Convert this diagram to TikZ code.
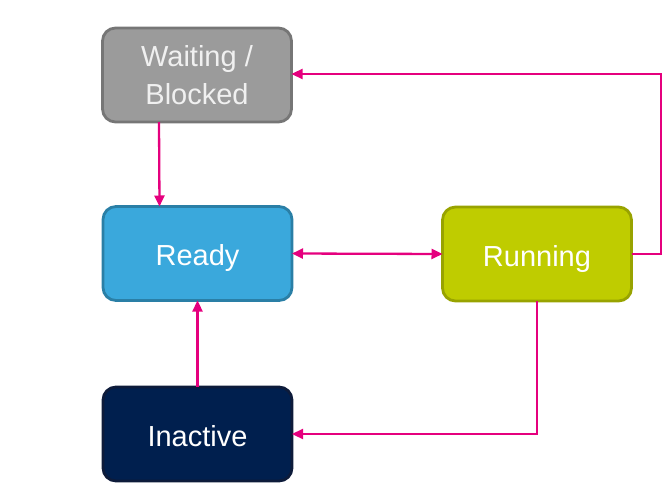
\documentclass[tikz,border=0pt]{standalone}
\usepackage{fontspec}
\setmainfont{Liberation Sans}
\usetikzlibrary{arrows.meta}
\definecolor{waitfill}{HTML}{9B9B9B}
\definecolor{waitdraw}{HTML}{767676}
\definecolor{readyfill}{HTML}{3AA8DC}
\definecolor{readydraw}{HTML}{2A7FA6}
\definecolor{runfill}{HTML}{BFCC00}
\definecolor{rundraw}{HTML}{98A300}
\definecolor{inactfill}{HTML}{001F4E}
\definecolor{inactdraw}{HTML}{0D1B3A}
\definecolor{conn}{HTML}{E5007E}
\begin{document}
\begin{tikzpicture}[x=1pt,y=-1pt,
  state/.style={rounded corners=13pt, line width=2.8pt, minimum width=189pt, minimum height=94pt,
    outer sep=0pt, align=center, text=white, font=\fontsize{29}{38}\selectfont},
  oneline/.style={text height=26pt, text depth=2pt},
  tip/.tip={Triangle[length=11pt,width=10pt]},
  link/.style={draw=conn, line width=2.3pt, -tip},
  dlink/.style={draw=conn, line width=2.3pt, tip-tip}]
\useasboundingbox (0,0) rectangle (671,489);
\node[state, fill=waitfill, draw=waitdraw, text=white!94!black] (W) at (197,75) {Waiting /\\Blocked};
\node[state, oneline, fill=readyfill, draw=readydraw] (R) at (197.5,253.5) {Ready};
\node[state, oneline, fill=runfill, draw=rundraw] (U) at (537,254) {Running};
\node[state, oneline, fill=inactfill, draw=inactdraw] (I) at (197.5,434) {Inactive};
\coordinate (c1) at (661,254);
\coordinate (c2) at (661,74);
\coordinate (c3) at (537,434);
\draw[link] ([xshift=-38pt]W.south) -- ([xshift=-38pt]R.north);
\draw[dlink] (R.east) -- (U.west);
\draw[link] (I.north) -- (R.south);
\draw[link] (U.east) -- (c1) -- (c2) -- (W.east |- c2);
\draw[link] (U.south) -- (c3) -- (I.east);
\end{tikzpicture}
\end{document}
